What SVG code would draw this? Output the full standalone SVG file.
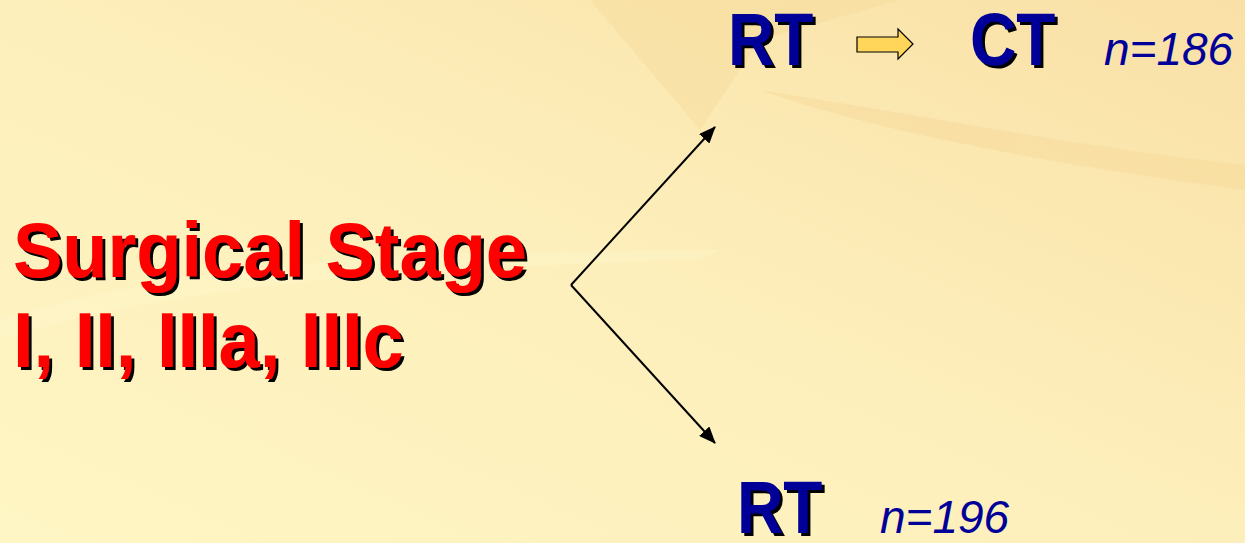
<svg xmlns="http://www.w3.org/2000/svg" width="1245" height="543" viewBox="0 0 1245 543">
<defs>
<linearGradient id="bg" x1="0" y1="1" x2="1" y2="0">
<stop offset="0" stop-color="#fef6c4"/>
<stop offset="0.5" stop-color="#fdefbb"/>
<stop offset="1" stop-color="#f9e0a6"/>
</linearGradient>
<filter id="sh" filterUnits="userSpaceOnUse" x="0" y="0" width="1245" height="543">
<feOffset in="SourceAlpha" dx="3" dy="3" result="o"/>
<feMerge><feMergeNode in="o"/><feMergeNode in="SourceGraphic"/></feMerge>
</filter>
<marker id="ah" viewBox="0 0 17 14" refX="16" refY="7" markerWidth="17" markerHeight="14" markerUnits="userSpaceOnUse" orient="auto">
<path d="M0,0 L17,7 L0,14 Z" fill="#000"/>
</marker>
<style>
.red{font-family:"Liberation Sans",Arial,sans-serif;font-weight:bold;font-size:74px;fill:#ff0000}
.blue{font-family:"Liberation Sans",Arial,sans-serif;font-weight:bold;font-size:64px;fill:#000099}
.n{font-family:"Liberation Sans",Arial,sans-serif;font-style:italic;font-size:46px;fill:#000099}
.conn{stroke:#000;stroke-width:2;fill:none;marker-end:url(#ah)}
</style>
</defs>
<rect width="1245" height="543" fill="url(#bg)"/>
<g opacity="0.3">
<path d="M590,0 L700,130 L760,40 L900,0 Z" fill="#f5d590"/>
<path d="M0,340 C150,290 350,270 700,260 L720,250 C400,250 200,260 0,320 Z" fill="#fff8d0"/>
<path d="M760,90 C900,140 1100,170 1245,190 L1245,165 C1100,150 950,120 760,90 Z" fill="#f5d08a"/>
</g>
<g id="stage" filter="url(#sh)">
<g transform="translate(0,277) scale(1,1.04)">
<text class="red" x="13" y="0">Surgical Stage</text>
</g>
<g transform="translate(0,367) scale(1,1.04)">
<text class="red" x="13" y="0">I, II, IIIa, IIIc</text>
</g>
</g>
<g id="top">
<g filter="url(#sh)">
<g transform="translate(0,65) scale(1,1.16)">
<text class="blue" x="728" y="0">RT</text>
<text class="blue" x="970" y="0">CT</text>
</g>
</g>
<path d="M857,37 L898,37 L898,29 L913,44 L898,59 L898,52 L857,52 Z" fill="#ffd55a" stroke="#000" stroke-width="1.2"/>
<text class="n" x="1104" y="65">n=186</text>
</g>
<g id="bottom">
<g filter="url(#sh)">
<g transform="translate(0,533) scale(1,1.16)">
<text class="blue" x="737" y="0">RT</text>
</g>
</g>
<text class="n" x="880" y="533">n=196</text>
</g>
<g id="connectors">
<line class="conn" x1="571" y1="285" x2="715" y2="127"/>
<line class="conn" x1="571" y1="285" x2="715" y2="443"/>
</g>
</svg>
